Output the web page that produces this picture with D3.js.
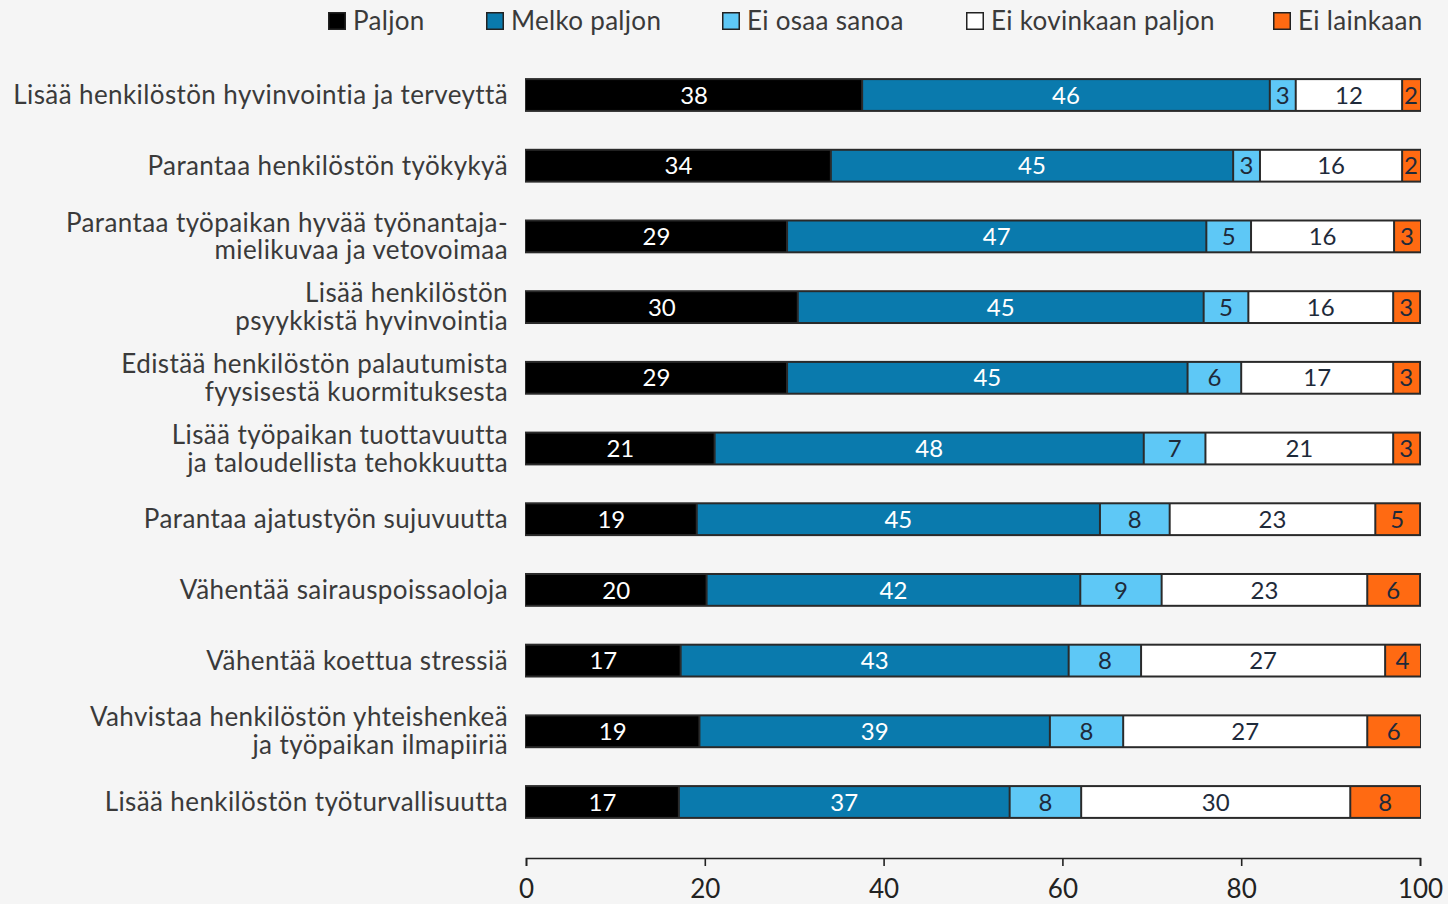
<!DOCTYPE html>
<html>
<head>
<meta charset="utf-8">
<script src="https://cdn.jsdelivr.net/npm/d3@7"></script>
<style>
  html, body { margin: 0; padding: 0; background: #f5f5f5; }
  svg { display: block; font-family: Lato, "Noto Sans", sans-serif; }
</style>
</head>
<body>
<svg id="chart" width="1448" height="904"></svg>
<script>
const categories = [
  ['Lisää henkilöstön hyvinvointia ja terveyttä'],
  ['Parantaa henkilöstön työkykyä'],
  ['Parantaa työpaikan hyvää työnantaja-', 'mielikuvaa ja vetovoimaa'],
  ['Lisää henkilöstön', 'psyykkistä hyvinvointia'],
  ['Edistää henkilöstön palautumista', 'fyysisestä kuormituksesta'],
  ['Lisää työpaikan tuottavuutta', 'ja taloudellista tehokkuutta'],
  ['Parantaa ajatustyön sujuvuutta'],
  ['Vähentää sairauspoissaoloja'],
  ['Vähentää koettua stressiä'],
  ['Vahvistaa henkilöstön yhteishenkeä', 'ja työpaikan ilmapiiriä'],
  ['Lisää henkilöstön työturvallisuutta']
];
const seriesNames = ['Paljon', 'Melko paljon', 'Ei osaa sanoa', 'Ei kovinkaan paljon', 'Ei lainkaan'];
const paljon        = [37.6, 34.1, 29.2, 30.4, 29.2, 21.1, 19.1, 20.2, 17.3, 19.4, 17.1];
const melkoPaljon   = [45.6, 45.0, 46.9, 45.4, 44.8, 48.0, 45.1, 41.8, 43.4, 39.2, 37.0];
const eiOsaaSanoa   = [2.9, 3.0, 5.0, 5.0, 6.0, 6.9, 7.8, 9.1, 8.1, 8.2, 8.0];
const eiKovinkaan   = [11.9, 15.9, 16.0, 16.2, 17.0, 21.0, 23.0, 23.0, 27.3, 27.3, 30.1];
const eiLainkaan    = [2.0, 2.0, 2.9, 2.9, 2.9, 2.9, 4.9, 5.8, 3.9, 5.9, 7.8];
const xTicks = [0, 20, 40, 60, 80, 100];

const colors = ['#000000', '#0a7aad', '#5ec8f6', '#ffffff', '#ff6a12'];
const textColors = ['#ffffff', '#ffffff', '#1e2a3a', '#1e2a3a', '#1e2a3a'];

const rows = categories.map((c, i) => {
  const vals = [paljon[i], melkoPaljon[i], eiOsaaSanoa[i], eiKovinkaan[i], eiLainkaan[i]];
  let acc = 0;
  return {
    key: i,
    label: c,
    segs: vals.map((v, k) => { const s = {k: k, x0: acc, x1: acc + v, v: v}; acc += v; return s; })
  };
});

const svg = d3.select('#chart');
const x = d3.scaleLinear().domain([0, 100]).range([526, 1420]);
const y = d3.scaleBand().domain(rows.map(r => r.key)).range([79.1, 817.9]).paddingInner(0.55).paddingOuter(0);

// bars
const g = svg.append('g');
const row = g.selectAll('g.row')
  .data(rows)
  .enter()
  .append('g')
  .attr('class', 'row')
  .attr('transform', d => `translate(0,${y(d.key)})`);

row.append('rect')
  .attr('x', x(0) - 1)
  .attr('y', -1)
  .attr('width', x(100) - x(0) + 2)
  .attr('height', y.bandwidth() + 2)
  .attr('fill', '#2a2a2a');

row.selectAll('rect.seg')
  .data(d => d.segs)
  .enter()
  .append('rect')
  .attr('class', 'seg')
  .attr('x', s => x(s.x0) + (s.k === 0 ? 0 : 1))
  .attr('y', 1)
  .attr('width', s => Math.max(0, x(s.x1) - x(s.x0) - (s.k === 0 ? 1 : 2) + (s.k === 4 ? 1 : 0)))
  .attr('height', y.bandwidth() - 2)
  .attr('fill', s => colors[s.k]);

row.selectAll('text.val')
  .data(d => d.segs)
  .enter()
  .append('text')
  .attr('class', 'val')
  .attr('x', s => (x(s.x0) + x(s.x1)) / 2)
  .attr('y', y.bandwidth() / 2)
  .attr('dy', '0.36em')
  .attr('text-anchor', 'middle')
  .attr('font-size', 24)
  .attr('fill', s => textColors[s.k])
  .text(s => Math.round(s.v));

// category labels
const lab = row.append('text')
  .attr('x', 508)
  .attr('text-anchor', 'end')
  .attr('font-size', 26)
  .attr('letter-spacing', 0.4)
  .attr('fill', '#3a3a3a');
lab.selectAll('tspan')
  .data(d => d.label.map((t, j) => ({t: t, j: j, n: d.label.length})))
  .enter()
  .append('tspan')
  .attr('x', 508)
  .attr('y', t => y.bandwidth() / 2 + (t.j - (t.n - 1) / 2) * 28)
  .attr('dy', '0.35em')
  .text(t => t.t);

// axis
const axis = svg.append('g')
  .attr('transform', 'translate(0,858)')
  .call(d3.axisBottom(x).tickValues(xTicks).tickSize(8).tickSizeOuter(8).tickPadding(14));
axis.select('.domain').attr('stroke', '#222').attr('stroke-width', 1.6);
axis.selectAll('.tick line').attr('stroke', '#222').attr('stroke-width', 1.6);
axis.selectAll('.tick text')
  .attr('font-size', 26)
  .attr('font-family', 'Lato, "Noto Sans", sans-serif')
  .attr('fill', '#222');

// legend
const legendX = [328, 486, 722, 966, 1273];
const leg = svg.append('g')
  .selectAll('g')
  .data(seriesNames)
  .enter()
  .append('g')
  .attr('transform', (d, i) => `translate(${legendX[i]},12)`);
leg.append('rect')
  .attr('x', 0.75).attr('y', 0.75)
  .attr('width', 16.5).attr('height', 16.5)
  .attr('fill', (d, i) => colors[i])
  .attr('stroke', '#222')
  .attr('stroke-width', 1.5);
leg.append('text')
  .attr('x', 25)
  .attr('y', 9)
  .attr('dy', '0.35em')
  .attr('font-size', 26)
  .attr('letter-spacing', 0.3)
  .attr('fill', '#3a3a3a')
  .text(d => d);
</script>
</body>
</html>
